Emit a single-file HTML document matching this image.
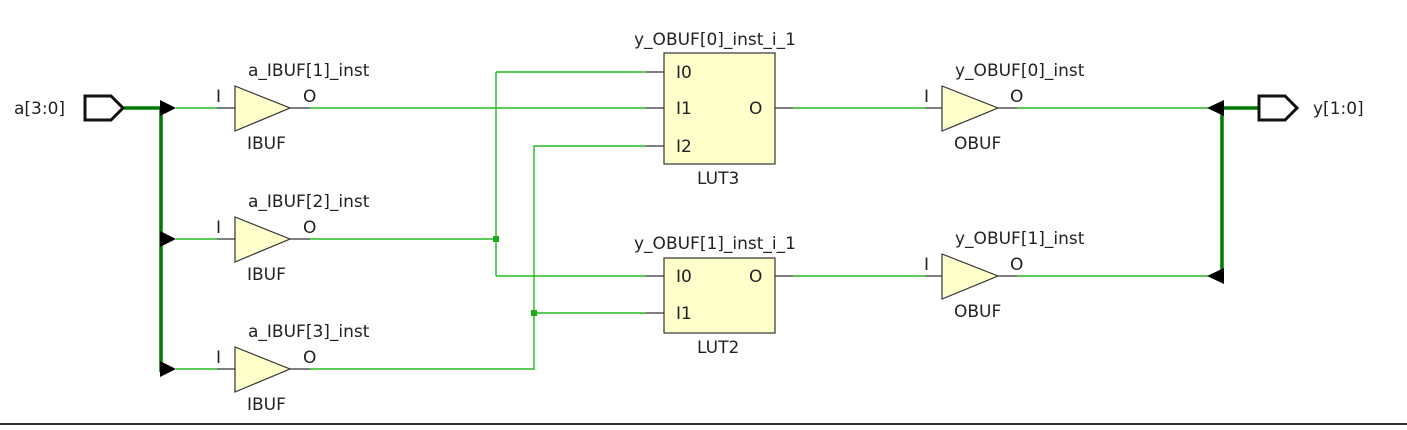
<!DOCTYPE html>
<html><head><meta charset="utf-8"><style>
html,body{margin:0;padding:0;background:#fff;}
svg text{font-family:"DejaVu Sans","Liberation Sans",sans-serif;font-size:17px;fill:#222;}
</style></head><body>
<svg width="1407" height="425" viewBox="0 0 1407 425" xmlns="http://www.w3.org/2000/svg">
<g fill="none" stroke="#22bb22" stroke-width="1.4">
<path d="M176 108H217M176 239H217M176 369H217"/>
<path d="M310 108H646"/>
<path d="M310 239H496M496 72V276M496 72H646M496 276H646"/>
<path d="M310 369H534V146H646M534 313H646"/>
<path d="M793 108H925M793 276H925"/>
<path d="M1017 108H1208M1017 276H1208"/>
</g>
<rect x="493" y="236" width="6" height="6" fill="#1aaa1a"/>
<rect x="531" y="310" width="6" height="6" fill="#1aaa1a"/>
<g stroke="#007a00" stroke-width="3.5" fill="none">
<path d="M124 108H162M161 108V372"/>
<path d="M1222 108V278M1222 108H1258"/>
</g>
<g fill="#000">
<polygon points="160,100 176,108 160,116"/>
<polygon points="160,231 176,239 160,247"/>
<polygon points="160,361 176,369 160,377"/>
<polygon points="1224,100 1207,108 1224,116"/>
<polygon points="1224,268 1207,276 1224,284"/>
</g>
<g fill="#fff" stroke="#111" stroke-width="3">
<polygon points="85,96 111,96 123,108 111,120 85,120"/>
<polygon points="1259,96 1285,96 1297,108 1285,120 1259,120"/>
</g>
<g stroke="#333" stroke-width="1.3">
<path d="M217 108H235M290 108H310M217 239H235M290 239H310M217 369H235M290 369H310"/>
<path d="M646 72H664M646 108H664M646 146H664M775 108H793"/>
<path d="M646 276H664M646 313H664M775 276H793"/>
<path d="M925 108H942M998 108H1017M925 276H942M998 276H1017"/>
</g>
<g fill="#ffffcc" stroke="#333" stroke-width="1.2">
<polygon points="235,86 290,108 235,131"/>
<polygon points="235,217 290,239 235,262"/>
<polygon points="235,347 290,369 235,392"/>
<polygon points="942,86 998,108 942,131"/>
<polygon points="942,254 998,276 942,299"/>
<rect x="664" y="53" width="111" height="111"/>
<rect x="664" y="258" width="111" height="75"/>
</g>
<text x="14" y="114">a[3:0]</text>
<text x="1313" y="114">y[1:0]</text>
<text x="248" y="76">a_IBUF[1]_inst</text>
<text x="216" y="102">I</text><text x="303" y="102">O</text>
<text x="247" y="149">IBUF</text>
<text x="248" y="207">a_IBUF[2]_inst</text>
<text x="216" y="233">I</text><text x="303" y="233">O</text>
<text x="247" y="280">IBUF</text>
<text x="248" y="337">a_IBUF[3]_inst</text>
<text x="216" y="363">I</text><text x="303" y="363">O</text>
<text x="247" y="410">IBUF</text>
<text x="634" y="45">y_OBUF[0]_inst_i_1</text>
<text x="676" y="78">I0</text><text x="676" y="114">I1</text><text x="676" y="152">I2</text>
<text x="749" y="114">O</text>
<text x="697" y="184">LUT3</text>
<text x="634" y="249">y_OBUF[1]_inst_i_1</text>
<text x="676" y="282">I0</text><text x="676" y="319">I1</text>
<text x="749" y="282">O</text>
<text x="697" y="353">LUT2</text>
<text x="955" y="76">y_OBUF[0]_inst</text>
<text x="924" y="102">I</text><text x="1010" y="102">O</text>
<text x="954" y="149">OBUF</text>
<text x="955" y="244">y_OBUF[1]_inst</text>
<text x="924" y="270">I</text><text x="1010" y="270">O</text>
<text x="954" y="317">OBUF</text>
<rect x="0" y="423" width="1407" height="2" fill="#333"/>
</svg>
</body></html>
